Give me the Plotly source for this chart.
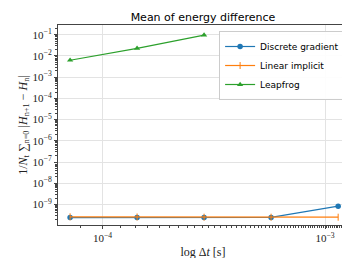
import plotly.graph_objects as go

dt = [7.15e-5, 1.43e-4, 2.86e-4, 5.72e-4, 1.145e-3]
discrete_gradient = [2.4e-10, 2.4e-10, 2.45e-10, 2.45e-10, 8.3e-10]
linear_implicit = [2.6e-10, 2.55e-10, 2.5e-10, 2.5e-10, 2.5e-10]
dt_leapfrog = [7.15e-5, 1.43e-4, 2.86e-4]
leapfrog = [6.3e-3, 2.3e-2, 9.7e-2]

y_tickvals = [1e-9, 1e-8, 1e-7, 1e-6, 1e-5, 1e-4, 1e-3, 1e-2, 1e-1]
y_ticktext = ["10<sup>−9</sup>", "10<sup>−8</sup>", "10<sup>−7</sup>", "10<sup>−6</sup>",
              "10<sup>−5</sup>", "10<sup>−4</sup>", "10<sup>−3</sup>", "10<sup>−2</sup>",
              "10<sup>−1</sup>"]
x_tickvals = [1e-4, 1e-3]
x_ticktext = ["10<sup>−4</sup>", "10<sup>−3</sup>"]

fig = go.Figure()
fig.add_trace(go.Scatter(x=dt, y=discrete_gradient, mode="lines+markers", name="Discrete gradient",
                         line=dict(color="#1f77b4", width=1.2),
                         marker=dict(symbol="circle", size=5.5, color="#1f77b4")))
fig.add_trace(go.Scatter(x=dt, y=linear_implicit, mode="lines+markers", name="Linear implicit",
                         line=dict(color="#ff7f0e", width=1.2),
                         marker=dict(symbol="line-ns", size=5, line=dict(color="#ff7f0e", width=1))))
fig.add_trace(go.Scatter(x=dt_leapfrog, y=leapfrog, mode="lines+markers", name="Leapfrog",
                         line=dict(color="#2ca02c", width=1.2),
                         marker=dict(symbol="triangle-up", size=5.5, color="#2ca02c")))

serif = "Liberation Serif"
fig.update_layout(
    width=350, height=258,
    margin=dict(l=50, r=9, t=17, b=35),
    paper_bgcolor="white", plot_bgcolor="white",
    title=dict(text="Mean of energy difference", x=0.557, xanchor="center", y=0.965, yanchor="middle",
               font=dict(family="DejaVu Sans", size=11, color="black")),
    legend=dict(x=0.99, y=0.97, xanchor="right", yanchor="top",
                bgcolor="rgba(255,255,255,0.9)", bordercolor="#cccccc", borderwidth=1,
                font=dict(family="DejaVu Sans", size=9, color="black"),
                tracegroupgap=0, itemwidth=30),
    showlegend=True,
)
fig.update_xaxes(type="log", range=[-4.2, -2.897], tickmode="array", tickvals=x_tickvals,
                 ticktext=x_ticktext, tickfont=dict(family=serif, size=11, color="#222"),
                 showgrid=True, gridcolor="#e3e3e3", gridwidth=1,
                 showline=True, linecolor="#444", linewidth=1, mirror=True,
                 ticks="outside", ticklen=3, tickcolor="#444",
                 minor=dict(ticks="outside", ticklen=2, tickcolor="#444", showgrid=False),
                 title=dict(text="log Δ<i>t</i> [s]", font=dict(family=serif, size=12, color="#222"), standoff=4))
fig.update_yaxes(type="log", range=[-9.97, -0.54], tickmode="array", tickvals=y_tickvals,
                 ticktext=y_ticktext, tickfont=dict(family=serif, size=11, color="#222"),
                 showgrid=True, gridcolor="#e3e3e3", gridwidth=1,
                 showline=True, linecolor="#444", linewidth=1, mirror=True,
                 ticks="outside", ticklen=3, tickcolor="#444",
                 minor=dict(ticks="outside", ticklen=2, tickcolor="#444", showgrid=False, dtick="D1"),
                 title=dict(text="1/<i>N</i><sub>t</sub> ∑<sub>n=0</sub> |<i>H</i><sub>n+1</sub> − <i>H</i><sub>n</sub>|",
                            font=dict(family=serif, size=12, color="#222"), standoff=2))

fig.write_html("out.html")
